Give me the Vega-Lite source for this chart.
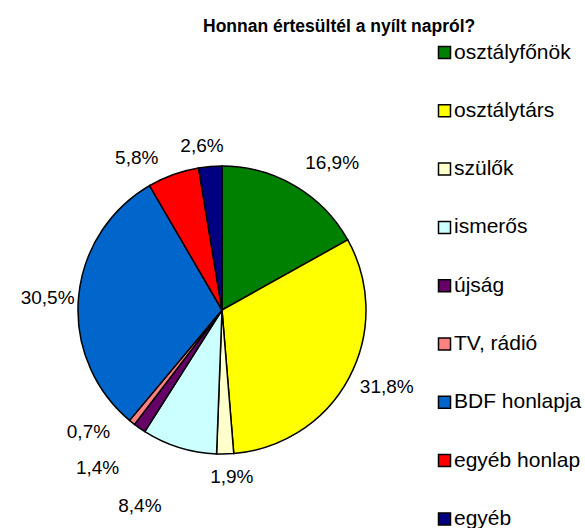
{
  "$schema": "https://vega.github.io/schema/vega-lite/v6.json",
  "autosize": "none",
  "width": 444,
  "height": 436,
  "padding": {"left": 0, "top": 92, "right": 141, "bottom": 0},
  "background": "white",
  "config": {"view": {"stroke": null}, "font": "Liberation Sans"},
  "title": {"text": "Honnan értesültél a nyílt napról?", "anchor": "start", "frame": "group", "dx": 203, "offset": 7, "fontSize": 17.5, "font": "Liberation Sans", "fontWeight": "bold", "color": "black"},
  "data": {"values": [
    {"idx": 1, "cat": "osztályfőnök", "value": 16.9, "label": "16,9%"},
    {"idx": 2, "cat": "osztálytárs", "value": 31.8, "label": "31,8%"},
    {"idx": 3, "cat": "szülők", "value": 1.9, "label": "1,9%"},
    {"idx": 4, "cat": "ismerős", "value": 8.4, "label": "8,4%"},
    {"idx": 5, "cat": "újság", "value": 1.4, "label": "1,4%"},
    {"idx": 6, "cat": "TV, rádió", "value": 0.7, "label": "0,7%"},
    {"idx": 7, "cat": "BDF honlapja", "value": 30.5, "label": "30,5%"},
    {"idx": 8, "cat": "egyéb honlap", "value": 5.8, "label": "5,8%"},
    {"idx": 9, "cat": "egyéb", "value": 2.6, "label": "2,6%"}
  ]},
  "encoding": {
    "theta": {"field": "value", "type": "quantitative", "stack": true},
    "order": {"field": "idx", "type": "quantitative"}
  },
  "layer": [
    {
      "mark": {"type": "arc", "outerRadius": 144, "stroke": "black", "strokeWidth": 1.5},
      "encoding": {
        "color": {"field": "cat", "type": "nominal", "sort": null,
          "scale": {"domain": ["osztályfőnök", "osztálytárs", "szülők", "ismerős", "újság", "TV, rádió", "BDF honlapja", "egyéb honlap", "egyéb"],
                    "range": ["#008000", "#FFFF00", "#FFFFCC", "#CCFFFF", "#660066", "#FF8080", "#0066CC", "#FF0000", "#000080"]},
          "legend": {"orient": "none", "legendX": 434, "legendY": -50, "title": null, "symbolType": "square", "symbolSize": 144, "symbolStrokeColor": "black", "symbolStrokeWidth": 1.5, "symbolOpacity": 1, "labelFontSize": 21, "labelFont": "Liberation Sans", "labelColor": "black", "rowPadding": 36.3, "labelOffset": -1, "labelLimit": 0}
        }
      }
    },
    {"mark": {"type": "text", "radius": 172, "dx": 23, "dy": 1, "fontSize": 19, "font": "Liberation Sans", "fill": "black"},
     "encoding": {"text": {"condition": {"test": "datum.cat === 'osztályfőnök'", "field": "label"}, "value": ""}}},
    {"mark": {"type": "text", "radius": 172, "dx": 13, "dy": -4, "fontSize": 19, "font": "Liberation Sans", "fill": "black"},
     "encoding": {"text": {"condition": {"test": "datum.cat === 'osztálytárs'", "field": "label"}, "value": ""}}},
    {"mark": {"type": "text", "radius": 172, "dx": 6, "dy": -5, "fontSize": 19, "font": "Liberation Sans", "fill": "black"},
     "encoding": {"text": {"condition": {"test": "datum.cat === 'szülők'", "field": "label"}, "value": ""}}},
    {"mark": {"type": "text", "radius": 172, "dx": -31, "dy": 32, "fontSize": 19, "font": "Liberation Sans", "fill": "black"},
     "encoding": {"text": {"condition": {"test": "datum.cat === 'ismerős'", "field": "label"}, "value": ""}}},
    {"mark": {"type": "text", "radius": 172, "dx": -26, "dy": 17, "fontSize": 19, "font": "Liberation Sans", "fill": "black"},
     "encoding": {"text": {"condition": {"test": "datum.cat === 'újság'", "field": "label"}, "value": ""}}},
    {"mark": {"type": "text", "radius": 172, "dx": -26, "dy": -12, "fontSize": 19, "font": "Liberation Sans", "fill": "black"},
     "encoding": {"text": {"condition": {"test": "datum.cat === 'TV, rádió'", "field": "label"}, "value": ""}}},
    {"mark": {"type": "text", "radius": 172, "dx": -3, "dy": 3, "fontSize": 19, "font": "Liberation Sans", "fill": "black"},
     "encoding": {"text": {"condition": {"test": "datum.cat === 'BDF honlapja'", "field": "label"}, "value": ""}}},
    {"mark": {"type": "text", "radius": 172, "dx": -27, "dy": 10, "fontSize": 19, "font": "Liberation Sans", "fill": "black"},
     "encoding": {"text": {"condition": {"test": "datum.cat === 'egyéb honlap'", "field": "label"}, "value": ""}}},
    {"mark": {"type": "text", "radius": 172, "dx": -6, "dy": 7, "fontSize": 19, "font": "Liberation Sans", "fill": "black"},
     "encoding": {"text": {"condition": {"test": "datum.cat === 'egyéb'", "field": "label"}, "value": ""}}}
  ]
}
